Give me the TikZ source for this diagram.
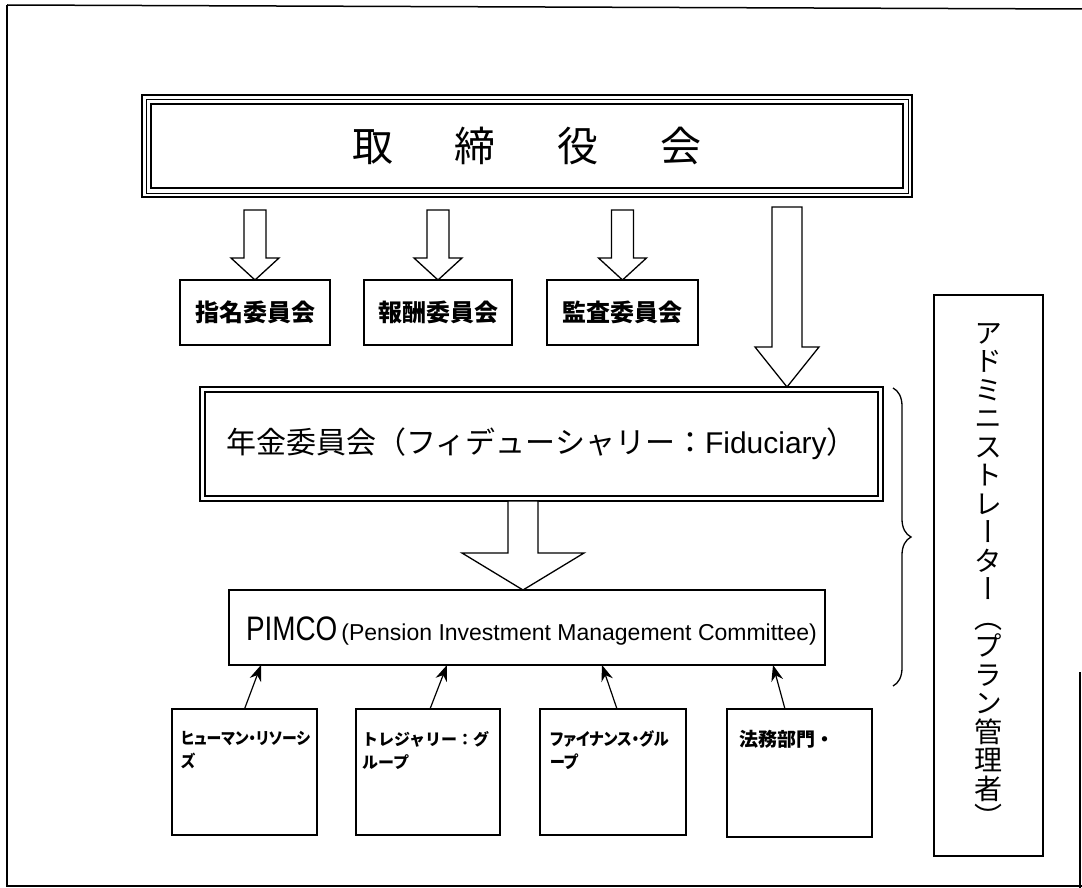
\documentclass[tikz,border=0pt]{standalone}
\usepackage{fontspec}
\setmainfont{Liberation Sans}
\newfontfamily\jp{Noto Sans CJK JP}
\newfontfamily\jpc[RawFeature=+palt, FakeStretch=0.9]{Noto Sans CJK JP}
\newfontfamily\jpv[RawFeature=+vert]{Noto Sans CJK JP}
\newfontfamily\narrowsans[FakeStretch=0.82]{Liberation Sans}
\usetikzlibrary{arrows.meta,calc,decorations.pathreplacing}

\tikzset{
  every node/.style={inner sep=0pt, outer sep=0pt},
  frameline/.style={line width=1.5pt},
  boardbox/.style={draw, line width=1.6pt, fill=white, anchor=north west,
     font=\jp\fontsize{41}{41}\selectfont},
  innerline/.style={line width=0.8pt},
  innerthick/.style={line width=1.3pt},
  cbox/.style={draw, line width=1.3pt, fill=white, anchor=north west, minimum height=65,
     font=\jp\bfseries\fontsize{24}{24}\selectfont},
  fidbox/.style={draw, line width=1.2pt, fill=white, anchor=north west,
     font=\jp\fontsize{30}{30}\selectfont},
  fidinner/.style={line width=2.2pt},
  pbox/.style={draw, line width=1.3pt, fill=white, anchor=north west},
  gbox/.style={draw, line width=1.5pt, fill=white, anchor=north west},
  glabel/.style={anchor=north west, align=left},
  adminbox/.style={draw, line width=1.3pt, fill=white, anchor=north west, align=center,
     font=\jpv\fontsize{28}{28.5}\selectfont},
  hollowarrow/.style={draw, line width=1.3pt, fill=white, line join=miter},
  conn/.style={line width=1.2pt, -{Stealth[length=16pt,width=12pt]}},
  bracestyle/.style={line width=1.3pt, decorate, decoration={brace, amplitude=18pt}}
}

% #1 tip, #2 total length, #3 head length, #4 shaft half-width, #5 head half-width
\newcommand{\blockarrow}[5]{%
  \draw[hollowarrow] (#1) -- ++({-#5},{-#3}) -- ++({#5-#4},0) -- ++(0,{-(#2-#3)})
    -- ++({2*#4},0) -- ++(0,{#2-#3}) -- ++({#5-#4},0) -- cycle;
}

\begin{document}
\begin{tikzpicture}[x=1pt,y=-1pt]
\useasboundingbox (0,0) rectangle (1082,888);
\fill[white] (0,0) rectangle (1082,888);

% outer frame
\draw[frameline] (7,5) -- (1082,9);
\draw[frameline] (7,5) -- (7,886) -- (1082,886);
\draw[frameline] (1080,672) -- (1080,888);

% board of directors
\node[boardbox, minimum width=770, minimum height=102] (board) at (142,95)
  {取\hspace{62pt}締\hspace{62pt}役\hspace{62pt}会};
\draw[innerline] ([shift={(4,4)}]board.north west) rectangle ([shift={(-4,-4)}]board.south east);
\draw[innerthick] ([shift={(9,9)}]board.north west) rectangle ([shift={(-9,-9)}]board.south east);

% committees
\node[cbox, minimum width=150] (c1) at (180,280) {指名委員会};
\node[cbox, minimum width=148] (c2) at (364,280) {報酬委員会};
\node[cbox, minimum width=151] (c3) at (547,280) {監査委員会};

\blockarrow{c1.north}{70}{22}{11}{24}
\blockarrow{c2.north}{70}{22}{11}{24}
\blockarrow{c3.north}{70}{22}{11}{24}

% fiduciary
\node[fidbox, minimum width=683, minimum height=114] (fid) at (200,387)
  {年金委員会（フィデューシャリー：{\rmfamily Fiduciary}）};
\draw[fidinner] ([shift={(5,5)}]fid.north west) rectangle ([shift={(-5,-5)}]fid.south east);

\path ($(fid.north west)+(587,0)$) coordinate (bigtip);
\blockarrow{bigtip}{180}{40}{15}{32}

% PIMCO
\node[pbox, minimum width=596, minimum height=75] (pimco) at (229,590) {};
\node[anchor=base west] (pimcotext) at (246,640)
  {{\narrowsans\fontsize{34}{34}\selectfont PIMCO}\hspace{4pt}{\fontsize{23}{23}\selectfont (Pension Investment Management Committee)}};

\path ($(pimco.north west)+(294,0)$) coordinate (midtip);
\blockarrow{midtip}{89}{37}{15}{61}

% groups
\node[gbox, minimum width=145, minimum height=126] (b1) at (172,709) {};
\node[gbox, minimum width=144, minimum height=126] (b2) at (356,709) {};
\node[gbox, minimum width=146, minimum height=126] (b3) at (540,709) {};
\node[gbox, minimum width=145, minimum height=128] (b4) at (727,709) {};

\node[glabel, font=\jpc\bfseries\fontsize{16.5}{23}\selectfont] (t1) at ($(b1.north west)+(9,22)$) {ヒューマン・リソーシ\\ズ};
\node[glabel, font=\jp\bfseries\fontsize{16}{23}\selectfont] (t2) at ($(b2.north west)+(6,22)$) {トレジャリー：グ\\ループ};
\node[glabel, font=\jpc\bfseries\fontsize{17}{23}\selectfont] (t3) at ($(b3.north west)+(10,22)$) {ファイナンス・グル\\ープ};
\node[glabel, font=\jp\bfseries\fontsize{19}{23}\selectfont] (t4) at ($(b4.north west)+(12,21)$) {法務部門・};

\draw[conn] (b1.north) -- ($(pimco.south west)+(32,0)$);
\draw[conn] ($(b2.north west)+(74,0)$) -- ($(pimco.south west)+(218,0)$);
\draw[conn] ($(b3.north west)+(77,0)$) -- ($(pimco.south west)+(373,0)$);
\draw[conn] ($(b4.north west)+(58,0)$) -- ($(pimco.south west)+(544,0)$);

% brace
\coordinate (bracetop) at (893,388);
\coordinate (bracebot) at (893,686);
\draw[bracestyle] (bracetop) -- (bracebot);

% administrator
\node[adminbox, minimum width=109, minimum height=561] (admin) at (934,295)
  {ア\\ド\\ミ\\ニ\\ス\\ト\\レ\\ー\\タ\\ー\\（\\プ\\ラ\\ン\\管\\理\\者\\）};
\end{tikzpicture}
\end{document}
